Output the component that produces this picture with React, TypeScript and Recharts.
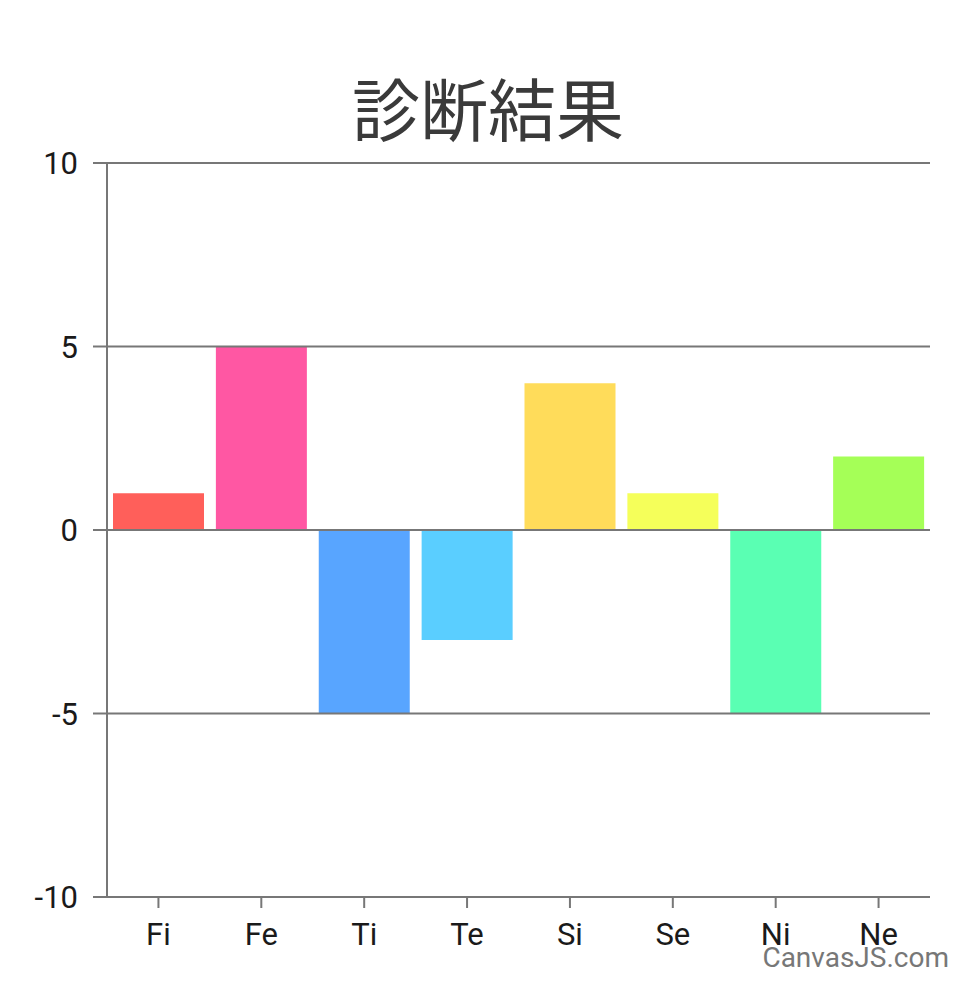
import React from 'react';
import { BarChart, Bar, XAxis, YAxis, Cell, ReferenceLine } from 'recharts';

const categories = ['Fi', 'Fe', 'Ti', 'Te', 'Si', 'Se', 'Ni', 'Ne'];
const values = [1, 5, -5, -3, 4, 1, -5, 2];
const colors = ['#FF5F5A', '#FF57A3', '#58A5FF', '#5ACEFF', '#FFDC5A', '#F5FF5A', '#5AFFB3', '#A5FF57'];
const yTicks = [-10, -5, 0, 5, 10];
const gridValues = [-5, 0, 5, 10];
const title = '診断結果';
const credit = 'CanvasJS.com';

const data = categories.map((name, i) => ({ name, value: values[i] }));

const AXIS = '#777777';
const tickStyle = { fontFamily: 'Roboto', fontSize: 31, fill: '#1a1a1a' };

export default function App() {
  return (
    <div style={{ position: 'absolute', left: 0, top: 0, width: 976, height: 999, background: '#fff' }}>
      <div
        style={{
          position: 'absolute',
          left: 0,
          top: 73,
          width: 976,
          textAlign: 'center',
          fontFamily: '"Noto Sans CJK JP", sans-serif',
          fontSize: 68,
          lineHeight: '68px',
          color: '#3a3a3a',
        }}
      >
        {title}
      </div>
      <BarChart width={976} height={999} data={data} margin={{ top: 163, right: 46, bottom: 52, left: 0 }}>
        <XAxis
          dataKey="name"
          height={50}
          tickSize={11}
          tickMargin={15}
          tick={tickStyle}
          axisLine={{ stroke: AXIS, strokeWidth: 2 }}
          tickLine={{ stroke: AXIS, strokeWidth: 2 }}
        />
        <YAxis
          width={107}
          domain={[-10, 10]}
          ticks={yTicks}
          tickSize={14}
          tickMargin={15}
          tick={tickStyle}
          axisLine={{ stroke: AXIS, strokeWidth: 2 }}
          tickLine={{ stroke: AXIS, strokeWidth: 2 }}
        />
        <Bar dataKey="value" barSize={91} isAnimationActive={false}>
          {data.map((d, i) => (
            <Cell key={d.name} fill={colors[i]} />
          ))}
        </Bar>
        {gridValues.map((v) => (
          <ReferenceLine key={v} y={v} stroke={AXIS} strokeWidth={2} />
        ))}
      </BarChart>
      <div
        style={{
          position: 'absolute',
          right: 27,
          top: 943,
          fontFamily: 'Roboto',
          fontSize: 28,
          lineHeight: '30px',
          color: '#777777',
        }}
      >
        {credit}
      </div>
    </div>
  );
}
